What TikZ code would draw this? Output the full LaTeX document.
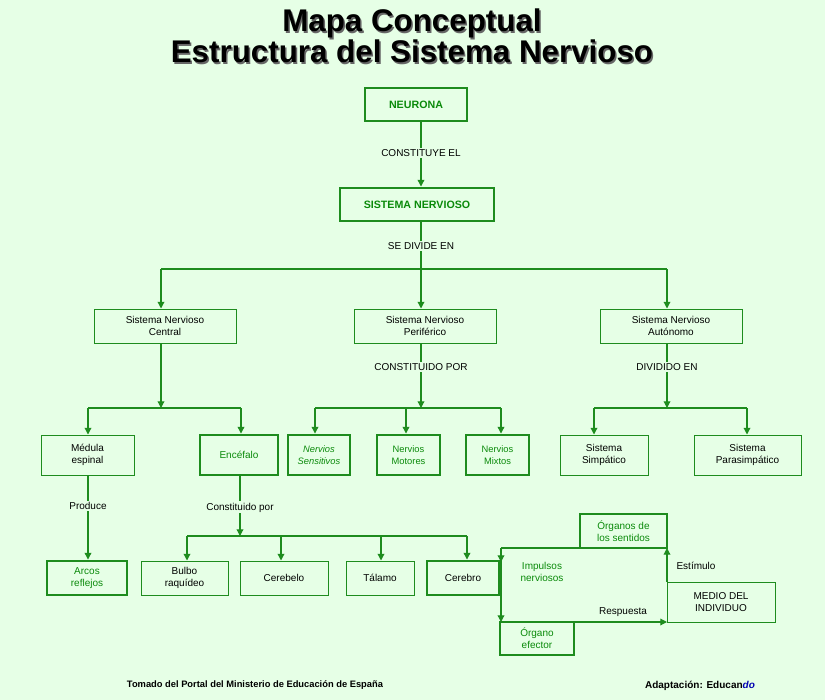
\documentclass[tikz,border=0pt]{standalone}
\usepackage{fontspec}
\setmainfont{Liberation Sans}
\usetikzlibrary{arrows.meta}
\definecolor{bg}{HTML}{E6FFE6}
\definecolor{gr}{HTML}{1E8C1E}
\definecolor{gt}{HTML}{0A8A0A}
\begin{document}
\begin{tikzpicture}[x=0.75pt,y=-0.75pt,
  box/.style={draw=gr,line width=0.75pt,fill=bg,align=center,font=\fontsize{7.5}{9}\selectfont,inner sep=0pt},
  tbox/.style={box,line width=2.2pt},
  gtext/.style={text=gt},
  lab/.style={fill=bg,font=\fontsize{7.5}{9}\selectfont,inner sep=1pt},
  ln/.style={draw=gr,line width=0.9pt},
  ar/.style={ln,-{Triangle[length=5pt,width=5pt]}}]
\fill[bg] (0,0) rectangle (825,700);
\useasboundingbox (0,0) rectangle (825,700);
\foreach \dx/\c in {1.5/black!60,0/black}{
\node[font=\bfseries\fontsize{23.5}{23}\selectfont,text=\c,align=center] at (412+\dx,36+\dx) {Mapa Conceptual\\Estructura del Sistema Nervioso};}
% boxes
\newcommand{\bx}[6]{\node[#1,minimum width={(#4-#2)*0.75pt},minimum height={(#5-#3)*0.75pt}] (#6) at ({(#2+#4)/2},{(#3+#5)/2})}
\bx{tbox,gtext,font=\bfseries\fontsize{8}{9}\selectfont}{365}{88}{467}{121}{neu} {NEURONA};
\bx{tbox,gtext,font=\bfseries\fontsize{8}{9}\selectfont}{340}{188}{494}{221}{sn} {SISTEMA NERVIOSO};
\bx{box}{94}{309}{236}{343}{cen} {Sistema Nervioso\\Central};
\bx{box}{354}{309}{496}{343}{per} {Sistema Nervioso\\Periférico};
\bx{box}{600}{309}{742}{343}{aut} {Sistema Nervioso\\Autónomo};
\bx{box}{41}{435}{134}{475}{med} {Médula\\espinal};
\bx{tbox,gtext}{200}{435}{278}{475}{enc} {Encéfalo};
\bx{tbox,gtext,font=\itshape\fontsize{7}{8.5}\selectfont}{288}{435}{350}{475}{sen} {Nervios\\Sensitivos};
\bx{tbox,gtext,font=\fontsize{7}{8.5}\selectfont}{377}{435}{440}{475}{mot} {Nervios\\Motores};
\bx{tbox,gtext,font=\fontsize{7}{8.5}\selectfont}{466}{435}{529}{475}{mix} {Nervios\\Mixtos};
\bx{box}{560}{435}{648}{475}{sim} {Sistema\\Simpático};
\bx{box}{694}{435}{801}{475}{par} {Sistema\\Parasimpático};
\bx{tbox,gtext}{47}{561}{127}{595}{arc} {Arcos\\reflejos};
\bx{box}{141}{561}{228}{595}{bul} {Bulbo\\raquídeo};
\bx{box}{240}{561}{328}{595}{cbl} {Cerebelo};
\bx{box}{346}{561}{414}{595}{tal} {Tálamo};
\bx{tbox}{427}{561}{499}{595}{cer} {Cerebro};
\bx{tbox,gtext}{580}{514}{667}{548}{org} {Órganos de\\los sentidos};
\bx{box}{667}{582}{775}{622}{mdi} {MEDIO DEL\\INDIVIDUO};
\bx{tbox,gtext}{500}{622}{574}{655}{efe} {Órgano\\efector};
% connectors
\coordinate (x0) at (421,0);
\draw[ar] (neu.south-|x0) -- (sn.north-|x0) node[lab,pos=0.48] {CONSTITUYE EL};
\coordinate (j1) at (421,269);
\draw[ln] (sn.south-|x0) -- (j1) node[lab,pos=0.5] {SE DIVIDE EN};
\draw[ln] (161,269) -- (667,269);
\draw[ar] (161,269) -- (cen.north-|161,0);
\draw[ar] (j1) -- (per.north-|x0);
\draw[ar] (667,269) -- (aut.north-|667,0);
% central
\coordinate (j2) at (161,408);
\draw[ar] (cen.south-|j2) -- (j2);
\draw[ln] (88,408) -- (241,408);
\draw[ar] (88,408) -- (med.north-|88,0);
\draw[ar] (241,408) -- (enc.north-|241,0);
% periferico
\coordinate (j3) at (421,408);
\draw[ar] (per.south-|x0) -- (j3) node[lab,pos=0.36] {CONSTITUIDO POR};
\draw[ln] (315,408) -- (501,408);
\draw[ar] (315,408) -- (sen.north-|315,0);
\draw[ar] (406,408) -- (mot.north-|406,0);
\draw[ar] (501,408) -- (mix.north-|501,0);
% autonomo
\coordinate (j4) at (667,408);
\draw[ar] (aut.south-|j4) -- (j4) node[lab,pos=0.36] {DIVIDIDO EN};
\draw[ln] (594,408) -- (747,408);
\draw[ar] (594,408) -- (sim.north-|594,0);
\draw[ar] (747,408) -- (par.north-|747,0);
% medula
\draw[ar] (med.south-|88,0) -- (arc.north-|88,0) node[lab,pos=0.36] {Produce};
% encefalo
\coordinate (j5) at (240,536);
\draw[ar] (enc.south-|j5) -- (j5) node[lab,pos=0.52] {Constituido por};
\draw[ln] (187,536) -- (467,536);
\foreach \xx/\n in {187/bul,281/cbl,381/tal,467/cer}
  \draw[ar] (\xx,536) -- (\n.north-|\xx,0);
% loop
\coordinate (c1) at (501,548);
\coordinate (c2) at (501,578);
\coordinate (c3) at (501,622);
\coordinate (c4) at (667,622);
\coordinate (c5) at (667,548);
\draw[ln] (cer.east) -- (c2);
\draw[ln] (org.west|-c1) -- (c1);
\draw[ar] (c1) -- (501,562);
\draw[ln] (501,560) -- (c2);
\draw[ar] (c2) -- (c3);
\draw[ar] (c3) -- (c4);
\draw[ar] (c4|-mdi.north) -- (c5);
\node[lab,gtext,align=center,fill=none] at (542,572) {Impulsos\\nerviosos};
\node[lab,fill=none] at (696,566) {Estímulo};
\node[lab,fill=none] at (623,612) {Respuesta};
% footer
\node[font=\bfseries\fontsize{7}{8}\selectfont] at (255,685) {Tomado del Portal del Ministerio de Educación de España};
\node[font=\bfseries\fontsize{7.5}{8}\selectfont] at (700,686) {Adaptación: Educan\textcolor{blue!70!black}{\itshape do}};
\end{tikzpicture}
\end{document}
